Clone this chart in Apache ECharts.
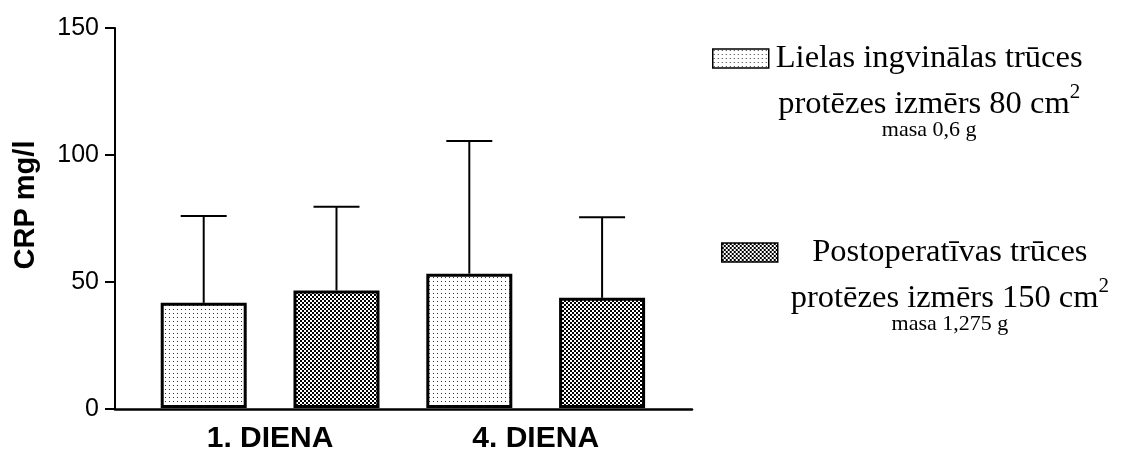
<!DOCTYPE html>
<html>
<head>
<meta charset="utf-8">
<style>html,body{margin:0;padding:0;background:#fff;}#c{width:1123px;height:454px;}</style>
<script src="https://cdn.jsdelivr.net/npm/echarts@6/dist/echarts.min.js"></script>
</head>
<body>
<div id="c"></div>
<script>
// ---- data ----
const categories = ['1. DIENA', '4. DIENA'];
const seriesNames = ['Lielas ingvinālas trūces', 'Postoperatīvas trūces'];
const meanSmall = [41.5, 53.0];   // 80 cm2 prosthesis
const sdSmall = [34.3, 52.4];
const meanLarge = [46.4, 43.5];   // 150 cm2 prosthesis
const sdLarge = [33.0, 31.8];
const legendLine2 = ['protēzes izmērs 80 cm', 'protēzes izmērs 150 cm'];
const legendSup = ['2', '2'];
const legendMass = ['masa 0,6 g', 'masa 1,275 g'];
const yTicks = [0, 50, 100, 150];
const yTitle = 'CRP mg/l';

// ---- styles ----
const BAR_WIDTH = 86;
const BAR_GAP = 0.544;
const HALF_DIST = BAR_WIDTH * (1 + BAR_GAP) / 2;

function dotPattern() {
  const c = document.createElement('canvas');
  c.width = 4; c.height = 4;
  const g = c.getContext('2d');
  g.fillStyle = '#fff'; g.fillRect(0, 0, 4, 4);
  g.fillStyle = '#333'; g.fillRect(1, 1, 1, 1);
  return c;
}
function checkPattern() {
  const c = document.createElement('canvas');
  c.width = 4; c.height = 4;
  const g = c.getContext('2d');
  g.fillStyle = '#fff'; g.fillRect(0, 0, 4, 4);
  g.fillStyle = '#000'; g.fillRect(0, 0, 2, 2); g.fillRect(2, 2, 2, 2);
  return c;
}
const fills = [
  { image: dotPattern(), repeat: 'repeat' },
  { image: checkPattern(), repeat: 'repeat' }
];

const SANS = "'Liberation Sans', Arial, sans-serif";
const SERIF = "'Liberation Serif', 'Times New Roman', serif";

function errData(means, sds) {
  return means.map((m, i) => [i, m, sds[i]]);
}
function errRender(sign) {
  return function (params, api) {
    const i = api.value(0), m = api.value(1), sd = api.value(2);
    const base = api.coord([i, m]);
    const top = api.coord([i, m + sd]);
    const x = base[0] + sign * HALF_DIST;
    return {
      type: 'group',
      children: [
        { type: 'line', shape: { x1: x, y1: base[1], x2: x, y2: top[1] },
          style: { stroke: '#000', lineWidth: 2 } },
        { type: 'line', shape: { x1: x - 23, y1: top[1], x2: x + 23, y2: top[1] },
          style: { stroke: '#000', lineWidth: 2 } }
      ]
    };
  };
}

const rich = {
  a: { fontFamily: SERIF, fontSize: 32.5, lineHeight: 46, align: 'center', color: '#000' },
  s: { fontFamily: SERIF, fontSize: 21, lineHeight: 30, verticalAlign: 'top', align: 'center', color: '#000' },
  b: { fontFamily: SERIF, fontSize: 22, lineHeight: 6, align: 'center', color: '#000' }
};
function legendFmt(name) {
  const k = seriesNames.indexOf(name);
  return '{a|' + name + '}\n{a|' + legendLine2[k] + '}{s|' + legendSup[k] + '}\n{b|' + legendMass[k] + '}';
}
function makeLegend(k, left, top, padLeft) {
  return {
    data: [seriesNames[k]],
    left: left, top: top, padding: 0,
    orient: 'vertical',
    icon: 'rect', itemWidth: 56, itemHeight: 19,
    itemStyle: { borderWidth: 1.5, borderColor: '#000' },
    selectedMode: false,
    formatter: legendFmt,
    textStyle: { rich: rich, padding: [52, 0, 0, padLeft] }
  };
}

const chart = echarts.init(document.getElementById('c'), null, { renderer: 'canvas' });
chart.setOption({
  animation: false,
  backgroundColor: '#fff',
  legend: [makeLegend(0, 712, 42, 2), makeLegend(1, 721, 236, 8)],
  graphic: [{
    type: 'text', x: 26, y: 205, rotation: Math.PI / 2,
    style: { text: yTitle, font: 'bold 29px ' + SANS, fill: '#000', align: 'center', verticalAlign: 'middle' }
  }],
  grid: [
    { left: 137.3, right: 454.5, top: 28, bottom: 45, containLabel: false },
    { left: 115, right: 431, top: 28, bottom: 45, containLabel: false }
  ],
  xAxis: [
    { type: 'category', gridIndex: 0, data: categories,
      axisLine: { show: false }, axisTick: { show: false },
      axisLabel: { color: '#000', fontFamily: SANS, fontWeight: 'bold', fontSize: 30, margin: 16 } },
    { type: 'value', gridIndex: 1, min: 0, max: 1,
      axisLine: { show: true, onZero: false, lineStyle: { color: '#000', width: 2.5 } },
      axisTick: { show: false }, axisLabel: { show: false }, splitLine: { show: false } }
  ],
  yAxis: [
    { type: 'value', gridIndex: 0, min: 0, max: 150, interval: 50, show: false, splitLine: { show: false } },
    { type: 'value', gridIndex: 1, min: yTicks[0], max: yTicks[yTicks.length - 1], interval: 50,
      axisLine: { show: true, lineStyle: { color: '#000', width: 2 } },
      axisTick: { show: true, inside: false, length: 10, lineStyle: { color: '#000', width: 2 } },
      axisLabel: { color: '#000', fontFamily: SANS, fontSize: 25, margin: 16 },
      splitLine: { show: false } }
  ],
  series: [
    { name: seriesNames[0], type: 'bar', xAxisIndex: 0, yAxisIndex: 0, data: meanSmall,
      barWidth: BAR_WIDTH, barGap: (BAR_GAP * 100) + '%',
      itemStyle: { color: fills[0], borderColor: '#000', borderWidth: 3 } },
    { name: seriesNames[1], type: 'bar', xAxisIndex: 0, yAxisIndex: 0, data: meanLarge,
      barWidth: BAR_WIDTH, barGap: (BAR_GAP * 100) + '%',
      itemStyle: { color: fills[1], borderColor: '#000', borderWidth: 3 } },
    { type: 'custom', xAxisIndex: 0, yAxisIndex: 0, renderItem: errRender(-1),
      data: errData(meanSmall, sdSmall), z: 5 },
    { type: 'custom', xAxisIndex: 0, yAxisIndex: 0, renderItem: errRender(1),
      data: errData(meanLarge, sdLarge), z: 5 }
  ]
});
</script>
</body>
</html>
